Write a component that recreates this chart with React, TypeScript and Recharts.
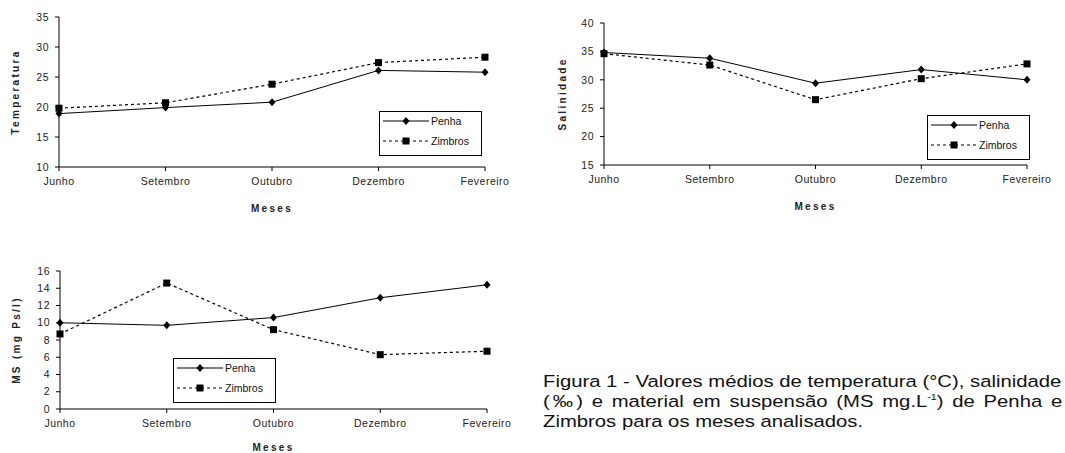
import { LineChart, Line, XAxis, YAxis, Legend, Label } from "recharts";

// valores médios
const meses = ["Junho", "Setembro", "Outubro", "Dezembro", "Fevereiro"];
const tempPenha = [18.9, 19.9, 20.8, 26.1, 25.8];
const tempZimbros = [19.8, 20.7, 23.8, 27.4, 28.3];
const salPenha = [34.8, 33.8, 29.4, 31.8, 30.0];
const salZimbros = [34.6, 32.6, 26.5, 30.2, 32.8];
const msPenha = [10.0, 9.7, 10.6, 12.9, 14.4];
const msZimbros = [8.7, 14.6, 9.2, 6.3, 6.7];

const tempTicks = [10, 15, 20, 25, 30, 35];
const salTicks = [15, 20, 25, 30, 35, 40];
const msTicks = [0, 2, 4, 6, 8, 10, 12, 14, 16];

const FONT = "'Liberation Sans', Arial, sans-serif";

const toRows = (a: number[], b: number[]) =>
  meses.map((mes, i) => ({ mes, Penha: a[i], Zimbros: b[i] }));

const Diamond = (p: any) => (
  <polygon
    key={`d${p.index}`}
    points={`${p.cx},${p.cy - 4} ${p.cx + 3.5},${p.cy} ${p.cx},${p.cy + 4} ${p.cx - 3.5},${p.cy}`}
    fill="#000"
  />
);
const Square = (p: any) => (
  <rect key={`s${p.index}`} x={p.cx - 3.5} y={p.cy - 3.5} width={7} height={7} fill="#000" />
);

function LegendBox(props: any) {
  const items = props.payload || [];
  return (
    <div
      style={{
        width: 103, height: 45, border: "1px solid #000", background: "#fff",
        boxSizing: "border-box", fontFamily: FONT, fontSize: 10.5, color: "#111",
        padding: "0 0 0 2px",
      }}
    >
      {items.map((e: any, i: number) => {
        const zim = e.value === "Zimbros";
        return (
          <div key={e.value} style={{ display: "flex", alignItems: "center", height: i === 0 ? 18 : 22 }}>
            <svg width={48} height={12} style={{ display: "block" }}>
              <line x1={1} y1={6} x2={47} y2={6} stroke="#000" strokeWidth={1}
                strokeDasharray={zim ? "3 3" : undefined} />
              {zim
                ? <rect x={20.5} y={2.5} width={7} height={7} fill="#000" />
                : <polygon points="24,2 27.5,6 24,10 20.5,6" fill="#000" />}
            </svg>
            <span style={{ marginLeft: 1 }}>{e.value}</span>
          </div>
        );
      })}
    </div>
  );
}

type PanelProps = {
  left: number; top: number; width: number; height: number;
  margin: { top: number; right: number; left: number; bottom: number };
  yWidth: number; xHeight: number;
  data: any[]; domain: [number, number]; ticks: number[];
  yTitle: string; yTitleOffset: number; xTitleOffset: number;
  legendLeft: number; legendTop: number;
};

function Panel(p: PanelProps) {
  const tick = { fontSize: 10.5, fill: "#222", fontFamily: FONT, letterSpacing: 0.5 };
  const title = { fontSize: 10, fontWeight: 700, letterSpacing: 2.3, fill: "#222", fontFamily: FONT };
  return (
    <div style={{ position: "absolute", left: p.left, top: p.top }}>
      <LineChart width={p.width} height={p.height} data={p.data} margin={p.margin}>
        <XAxis dataKey="mes" interval={0} tickSize={4} tickMargin={7} height={p.xHeight}
          axisLine={{ stroke: "#000" }} tickLine={{ stroke: "#000" }} tick={tick}>
          <Label value="Meses" position="insideBottom" offset={p.xTitleOffset} style={title} />
        </XAxis>
        <YAxis type="number" domain={p.domain} ticks={p.ticks} interval={0} width={p.yWidth}
          tickSize={4} tickMargin={6} axisLine={{ stroke: "#000" }} tickLine={{ stroke: "#000" }}
          tick={tick}>
          <Label value={p.yTitle} angle={-90} position="insideLeft" offset={p.yTitleOffset}
            style={{ ...title, textAnchor: "middle" }} />
        </YAxis>
        <Legend layout="horizontal" verticalAlign="middle" align="center" content={LegendBox}
          wrapperStyle={{ left: p.legendLeft, top: p.legendTop, width: 103, height: 45 }} />
        <Line dataKey="Penha" stroke="#000" strokeWidth={1} dot={Diamond} activeDot={false}
          isAnimationActive={false} />
        <Line dataKey="Zimbros" stroke="#000" strokeWidth={1.2} strokeDasharray="3 3" dot={Square}
          activeDot={false} isAnimationActive={false} />
      </LineChart>
    </div>
  );
}

export default function App() {
  return (
    <div style={{ position: "absolute", left: 0, top: 0, width: 1065, height: 453, overflow: "hidden", background: "#fff" }}>
      <Panel left={0} top={0} width={530} height={220}
        margin={{ top: 17, right: 45, left: 0, bottom: 0 }} yWidth={59} xHeight={53}
        data={toRows(tempPenha, tempZimbros)} domain={[10, 35]} ticks={tempTicks}
        yTitle="Temperatura" yTitleOffset={15} xTitleOffset={8}
        legendLeft={379} legendTop={111} />
      <Panel left={530} top={0} width={535} height={220}
        margin={{ top: 23, right: 38, left: 0, bottom: 0 }} yWidth={74} xHeight={55}
        data={toRows(salPenha, salZimbros)} domain={[15, 40]} ticks={salTicks}
        yTitle="Salinidade" yTitleOffset={32} xTitleOffset={10}
        legendLeft={397} legendTop={115} />
      <Panel left={0} top={250} width={530} height={203}
        margin={{ top: 21, right: 43, left: 0, bottom: 0 }} yWidth={60} xHeight={44}
        data={toRows(msPenha, msZimbros)} domain={[0, 16]} ticks={msTicks}
        yTitle="MS (mg Ps/l)" yTitleOffset={16} xTitleOffset={2}
        legendLeft={173} legendTop={108} />
      <div
        style={{
          position: "absolute", left: 543, top: 371, width: 440,
          transform: "scaleX(1.18)", transformOrigin: "left top",
          fontFamily: FONT, fontSize: 17.2, lineHeight: "20px", color: "#111",
          whiteSpace: "nowrap",
        }}
      >
        <div>Figura 1 - Valores médios de temperatura (°C), salinidade</div>
        <div style={{ textAlign: "justify", textAlignLast: "justify", whiteSpace: "normal" }}>
          (‰) e material em suspensão (MS mg.L<sup style={{ fontSize: 9, lineHeight: 0 }}>-1</sup>) de Penha e
        </div>
        <div>Zimbros para os meses analisados.</div>
      </div>
    </div>
  );
}
